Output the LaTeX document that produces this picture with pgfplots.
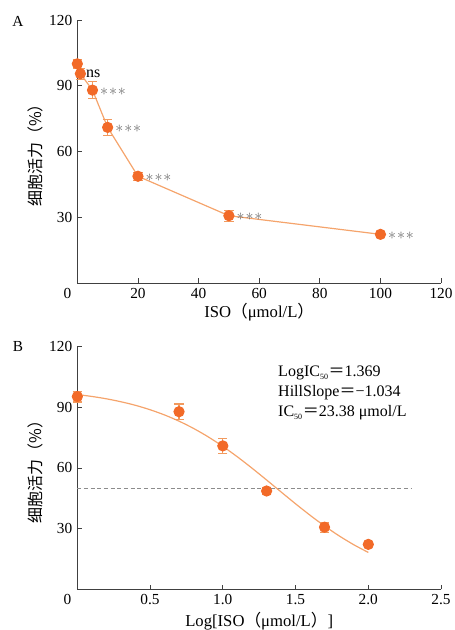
\documentclass[border=0pt]{standalone}
\usepackage{pgfplots}
\pgfplotsset{compat=1.18}
\usepackage{fontspec}
\setmainfont{Liberation Serif}
\newfontfamily\cjk{Noto Sans CJK SC}
\definecolor{mk}{HTML}{F26A28}
\definecolor{ln}{HTML}{F5A46C}
\definecolor{eb}{HTML}{F29A5E}
\definecolor{st}{HTML}{707070}
\tikzset{stars/.style={anchor=west, inner sep=0pt, text=st, xshift=5.6pt, yshift=-0.9pt, font=\fontsize{12}{14}\selectfont},
  txt/.style={anchor=base west, inner sep=0pt, font=\fontsize{12}{14}\selectfont}}
\begin{document}
\fontsize{11}{13}\selectfont
\begin{tikzpicture}
\useasboundingbox (-58pt,212.25pt) rectangle (282.5pt,-260.25pt);
\pgfplotsset{
  every axis/.append style={
    scale only axis, width=272.8pt,
    axis lines*=left, tick align=inside, major tick length=3.5pt,
    axis line style={black!75, line width=0.6pt},
    every tick/.style={black!75, line width=0.6pt},
    /pgf/number format/assume math mode=true,
    tick label style={font=\fontsize{11.5}{13}\selectfont},
    ymin=0, ymax=120, ytick={30,60,90,120},
    clip=false,
  },
}
% ---------- A ----------
\begin{axis}[
  at={(0pt,0pt)}, anchor=south west, height=197.25pt,
  xmin=0, xmax=120, xtick={0,20,40,60,80,100,120},
  xticklabels={\llap{0\hspace{4.5pt}},20,40,60,80,100,120},
  xlabel={ISO{\cjk （}μmol/L{\cjk ）}},
  ylabel={\cjk 细胞活力（\%）},
  x label style={at={(axis description cs:0.5,-0.11)},anchor=center,font=\fontsize{12.5}{14}\selectfont},
  y label style={at={(axis description cs:-0.115,0.5)},anchor=center,font=\fontsize{12}{14}\selectfont},
]
\addplot[ln, line width=0.9pt, mark=none] coordinates {
 (0,100) (1,95.5) (5,88) (10,71) (20,48.7) (50,30.7) (100,22.2)};
\addplot[eb, line width=0.8pt, only marks, mark=*, mark size=3.8pt,
  mark options={fill=mk, draw=mk},
  error bars/.cd, y dir=both, y explicit,
  error bar style={eb, line width=0.8pt}, error mark options={rotate=90, mark size=3.5pt, eb, line width=0.8pt}]
 coordinates {
 (0,100) +- (0,2)
 (1,95.5) +- (0,2.5)
 (5,88) +- (0,3.8)
 (10,71) +- (0,3.8)
 (20,48.7) +- (0,1.8)
 (50,30.7) +- (0,2.5)
 (100,22.2) +- (0,0.5)};
\node[txt] at (axis cs:2.8,93.6) {ns};
\node[stars] at (axis cs:5,88) {$\ast\!\ast\!\ast$};
\node[stars] at (axis cs:10,71) {$\ast\!\ast\!\ast$};
\node[stars] at (axis cs:20,48.7) {$\ast\!\ast\!\ast$};
\node[stars] at (axis cs:50,30.7) {$\ast\!\ast\!\ast$};
\node[stars] at (axis cs:100,22.2) {$\ast\!\ast\!\ast$};
\end{axis}
\node[font=\fontsize{11.5}{13}\selectfont] at (-44.5pt,196.5pt) {A};
% ---------- B ----------
\begin{axis}[
  at={(0pt,-229.7pt)}, anchor=south west, height=182pt,
  xmin=0, xmax=2.5, xtick={0,0.5,1,1.5,2,2.5},
  xticklabels={\llap{0\hspace{4.5pt}},0.5,1.0,1.5,2.0,2.5},
  xlabel={Log[ISO{\cjk （}μmol/L{\cjk ）}]},
  ylabel={\cjk 细胞活力（\%）},
  x label style={at={(axis description cs:0.5,-0.133)},anchor=center,font=\fontsize{12.5}{14}\selectfont},
  y label style={at={(axis description cs:-0.115,0.5)},anchor=center,font=\fontsize{12}{14}\selectfont},
]
\addplot[black!45, line width=0.7pt, dash pattern=on 3pt off 2pt] coordinates {(0,50) (2.3,50)};
\addplot[ln, line width=0.9pt, smooth, mark=none] coordinates {
 (0,96.30) (0.1,95.35) (0.2,94.18) (0.3,92.72) (0.4,90.95) (0.5,88.78)
 (0.6,86.18) (0.7,83.10) (0.8,79.49) (0.9,75.34) (1.0,70.66) (1.1,65.49)
 (1.2,59.92) (1.3,54.09) (1.4,48.15) (1.5,42.26) (1.6,36.59) (1.7,31.26)
 (1.8,26.38) (1.9,22.02) (2.0,18.21)};
\addplot[eb, line width=0.8pt, only marks, mark=*, mark size=3.8pt,
  mark options={fill=mk, draw=mk},
  error bars/.cd, y dir=both, y explicit,
  error bar style={eb, line width=0.8pt}, error mark options={rotate=90, mark size=3.5pt, eb, line width=0.8pt}]
 coordinates {
 (0,95.3) +- (0,2.7)
 (0.699,87.8) +- (0,3.8)
 (1,70.9) +- (0,3.7)
 (1.301,48.6) +- (0,1.6)
 (1.699,30.7) +- (0,2.5)
 (2,22.2) +- (0,0.5)};
\node[txt] at (axis cs:1.379,105.1) {LogIC\textsubscript{\fontsize{6}{6}\selectfont 50}{\cjk ＝}1.369};
\node[txt] at (axis cs:1.379,95.2) {HillSlope{\cjk ＝}−1.034};
\node[txt] at (axis cs:1.379,85.3) {IC\textsubscript{\fontsize{6}{6}\selectfont 50}{\cjk ＝}23.38 μmol/L};
\end{axis}
\node[font=\fontsize{11.5}{13}\selectfont] at (-44.5pt,-48pt) {B};
\end{tikzpicture}
\end{document}
